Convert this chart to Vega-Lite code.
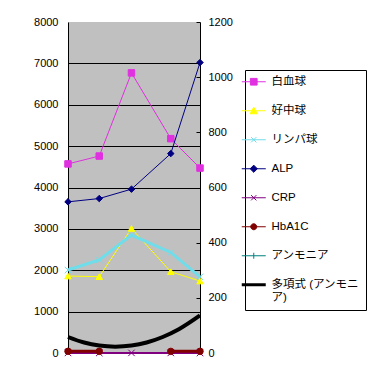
{
  "$schema": "https://vega.github.io/schema/vega-lite/v6.json",
  "width": 132,
  "height": 331,
  "autosize": {"type": "none"},
  "padding": {"left": 68, "top": 22, "right": 175, "bottom": 12},
  "background": "white",
  "config": {
    "view": {"fill": "#C0C0C0", "stroke": null},
    "font": "Liberation Sans, Noto Sans CJK JP, sans-serif",
    "axis": {
      "labelFont": "Liberation Sans, Noto Sans CJK JP, sans-serif",
      "labelFontSize": 11,
      "labelColor": "black",
      "domainColor": "black",
      "tickColor": "black",
      "gridColor": "black",
      "gridOpacity": 1,
      "title": null
    }
  },
  "datasets": {
    "left": [
      {"day": 0, "series": "白血球", "value": 4570},
      {"day": 31, "series": "白血球", "value": 4760},
      {"day": 63, "series": "白血球", "value": 6770},
      {"day": 102, "series": "白血球", "value": 5180},
      {"day": 131, "series": "白血球", "value": 4470},
      {"day": 0, "series": "好中球", "value": 1860},
      {"day": 31, "series": "好中球", "value": 1845},
      {"day": 63, "series": "好中球", "value": 3010},
      {"day": 102, "series": "好中球", "value": 1965},
      {"day": 131, "series": "好中球", "value": 1740},
      {"day": 0, "series": "リンパ球", "value": 2005},
      {"day": 31, "series": "リンパ球", "value": 2250},
      {"day": 63, "series": "リンパ球", "value": 2850},
      {"day": 102, "series": "リンパ球", "value": 2430},
      {"day": 131, "series": "リンパ球", "value": 1840}
    ],
    "right": [
      {"day": 0, "series": "ALP", "value": 548},
      {"day": 31, "series": "ALP", "value": 560},
      {"day": 63, "series": "ALP", "value": 594},
      {"day": 102, "series": "ALP", "value": 723},
      {"day": 131, "series": "ALP", "value": 1053},
      {"day": 0, "series": "CRP", "value": 0.3},
      {"day": 31, "series": "CRP", "value": 0.2},
      {"day": 63, "series": "CRP", "value": 0.4},
      {"day": 102, "series": "CRP", "value": 0.3},
      {"day": 131, "series": "CRP", "value": 0.2},
      {"day": 0, "series": "HbA1C", "value": 6.2},
      {"day": 31, "series": "HbA1C", "value": 6.0},
      {"day": 63, "series": "HbA1C", "value": null},
      {"day": 102, "series": "HbA1C", "value": 5.9},
      {"day": 131, "series": "HbA1C", "value": 6.1}
    ],
    "trend": [
      {"day": 0, "series": "多項式 (アンモニア)", "value": 58},
      {"day": 16, "series": "多項式 (アンモニア)", "value": 38},
      {"day": 31, "series": "多項式 (アンモニア)", "value": 27},
      {"day": 47, "series": "多項式 (アンモニア)", "value": 23},
      {"day": 63, "series": "多項式 (アンモニア)", "value": 27},
      {"day": 78, "series": "多項式 (アンモニア)", "value": 38},
      {"day": 94, "series": "多項式 (アンモニア)", "value": 58},
      {"day": 110, "series": "多項式 (アンモニア)", "value": 86},
      {"day": 131, "series": "多項式 (アンモニア)", "value": 136}
    ]
  },
  "encoding": {
    "x": {
      "field": "day",
      "type": "quantitative",
      "scale": {"domain": [0, 131], "nice": false, "zero": false},
      "axis": {"labels": false, "ticks": false, "grid": false, "domain": true, "title": null}
    }
  },
  "layer": [
    {
      "data": {"name": "left"},
      "encoding": {
        "y": {
          "field": "value",
          "type": "quantitative",
          "scale": {"domain": [0, 8000], "nice": false},
          "axis": {
            "orient": "left",
            "values": [0, 1000, 2000, 3000, 4000, 5000, 6000, 7000, 8000],
            "format": "d",
            "grid": true,
            "gridOpacity": {"condition": {"test": "datum.value === 8000", "value": 0}, "value": 1},
            "ticks": false,
            "labelPadding": 10,
            "domain": true
          }
        }
      },
      "layer": [
        {
          "mark": {"type": "line", "clip": false},
          "encoding": {
            "color": {
              "field": "series",
              "type": "nominal",
              "scale": {
                "domain": ["白血球", "好中球", "リンパ球", "ALP", "CRP", "HbA1C", "アンモニア", "多項式 (アンモニア)"],
                "range": ["#E030E0", "#FFFF00", "#70DDEA", "#000080", "#800080", "#800000", "#008080", "#000000"]
              },
              "legend": {
                "orient": "none",
                "legendX": 177,
                "legendY": 48,
                "title": null,
                "strokeColor": "black",
                "fillColor": "white",
                "padding": 6,
                "symbolSize": 576,
                "symbolOffset": -3,
                "symbolType": "M-1,0H1",
                "labelFont": "Liberation Sans, Noto Sans CJK JP, sans-serif",
                "labelFontSize": 11.5,
                "labelColor": "black",
                "labelOffset": 12,
                "labelLimit": 200,
                "rowPadding": 16,
                "labelExpr": "datum.value === '多項式 (アンモニア)' ? ['多項式 (アンモニ', 'ア)'] : datum.label",
                "encode": {
                  "symbols": {
                    "update": {
                      "shape": {"signal": "datum.value === '白血球' ? 'M-1,0H1M-0.28,-0.28H0.28V0.28H-0.28Z' : datum.value === '好中球' ? 'M-1,0H1M0,-0.3L0.3,0.25L-0.3,0.25Z' : datum.value === 'リンパ球' ? 'M-1,0H1M-0.22,-0.22L0.22,0.22M0.22,-0.22L-0.22,0.22' : datum.value === 'ALP' ? 'M-1,0H1M0,-0.3L0.3,0L0,0.3L-0.3,0Z' : datum.value === 'CRP' ? 'M-1,0H1M-0.22,-0.22L0.22,0.22M0.22,-0.22L-0.22,0.22' : datum.value === 'HbA1C' ? 'M-1,0H1M0.25,0A0.25,0.25,0,1,1,-0.25,0A0.25,0.25,0,1,1,0.25,0Z' : datum.value === 'アンモニア' ? 'M-1,0H1M0,-0.25V0.25' : 'M-1,0H1'"},
                      "fill": {"scale": "color", "field": "value"},
                      "stroke": {"scale": "color", "field": "value"},
                      "strokeWidth": {"signal": "datum.value === '多項式 (アンモニア)' ? 3 : 1"},
                      "opacity": {"value": 1}
                    }
                  },
                  "labels": {
                    "update": {
                      "lineHeight": {"value": 13}
                    }
                  }
                }
              }
            },
            "strokeWidth": {
              "field": "series",
              "type": "nominal",
              "scale": {
                "type": "ordinal",
                "domain": ["白血球", "好中球", "リンパ球", "ALP", "CRP", "HbA1C", "アンモニア", "多項式 (アンモニア)"],
                "range": [1, 1, 3, 1, 1, 1.5, 1, 3]
              },
              "legend": null
            }
          }
        },
        {
          "mark": {"type": "point", "filled": true, "size": 42, "opacity": 1, "strokeWidth": 1, "clip": false},
          "encoding": {
            "color": {"field": "series", "type": "nominal"},
            "stroke": {
              "field": "series",
              "type": "nominal",
              "scale": {
                "domain": ["白血球", "好中球", "リンパ球", "ALP", "CRP", "HbA1C", "アンモニア", "多項式 (アンモニア)"],
                "range": ["#E030E0", "#FFFF00", "#70DDEA", "#000080", "#800080", "#800000", "#008080", "#000000"]
              },
              "legend": null
            },
            "shape": {
              "field": "series",
              "type": "nominal",
              "scale": {
                "domain": ["白血球", "好中球", "リンパ球", "ALP", "CRP", "HbA1C", "アンモニア"],
                "range": ["square", "triangle-up", "M-1,-1L1,1M1,-1L-1,1", "diamond", "M-1,-1L1,1M1,-1L-1,1", "circle", "M0,-1V1M-1,0H1"]
              },
              "legend": null
            }
          }
        }
      ]
    },
    {
      "encoding": {
        "y": {
          "field": "value",
          "type": "quantitative",
          "scale": {"domain": [0, 1200], "nice": false},
          "axis": {
            "orient": "right",
            "values": [0, 200, 400, 600, 800, 1000, 1200],
            "format": "d",
            "grid": false,
            "ticks": true,
            "tickSize": -4,
            "labelPadding": 12,
            "domain": true
          }
        }
      },
      "layer": [
        {
          "data": {"name": "right"},
          "mark": {"type": "line", "clip": false, "invalid": "break-paths-show-domains"},
          "encoding": {
            "color": {"field": "series", "type": "nominal"},
            "strokeWidth": {"field": "series", "type": "nominal", "legend": null}
          }
        },
        {
          "data": {"name": "right"},
          "mark": {"type": "point", "filled": true, "size": 42, "opacity": 1, "strokeWidth": 1, "clip": false},
          "encoding": {
            "color": {"field": "series", "type": "nominal"},
            "stroke": {"field": "series", "type": "nominal", "legend": null},
            "shape": {"field": "series", "type": "nominal", "legend": null}
          }
        },
        {
          "data": {"name": "trend"},
          "mark": {"type": "line", "interpolate": "monotone", "clip": false},
          "encoding": {
            "color": {"field": "series", "type": "nominal"},
            "strokeWidth": {"field": "series", "type": "nominal", "legend": null}
          }
        }
      ]
    }
  ],
  "resolve": {"scale": {"y": "independent"}}
}
